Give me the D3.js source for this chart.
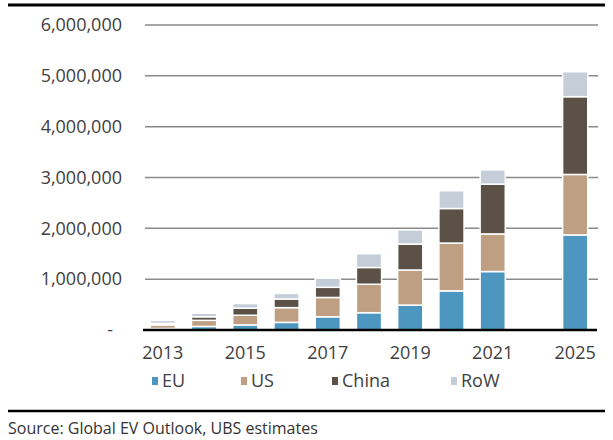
<!DOCTYPE html>
<html>
<head>
<meta charset="utf-8">
<script src="https://cdn.jsdelivr.net/npm/d3@7"></script>
<style>
  html, body { margin: 0; padding: 0; background: #fff; }
  svg { display: block; font-family: "Open Sans", "Noto Sans", sans-serif; }
</style>
</head>
<body>
<svg id="chart" width="613" height="440"></svg>
<script>
// ---- data ----
const categories = ["2013","2014","2015","2016","2017","2018","2019","2020","2021","","2025"];
const tickLabels = ["2013","2015","2017","2019","2021","2025"];
const seriesNames = ["EU","US","China","RoW"];
const EU    = [30000, 70000, 100000, 150000, 260000, 340000, 490000, 770000, 1150000, null, 1870000];
const US    = [70000, 120000, 190000, 290000, 380000, 560000, 690000, 940000, 740000, null, 1190000];
const China = [30000, 70000, 140000, 170000, 200000, 330000, 510000, 680000, 980000, null, 1530000];
const RoW   = [60000, 70000, 90000, 110000, 180000, 270000, 280000, 350000, 280000, null, 490000];
const yTicks = [0, 1000000, 2000000, 3000000, 4000000, 5000000, 6000000];
const colors = ["#4C96C0", "#BE9F82", "#5B5147", "#C5CDD9"];
const sourceText = "Source: Global EV Outlook, UBS estimates";

// ---- build table ----
const table = categories.map((c, i) => ({
  cat: c, EU: EU[i] || 0, US: US[i] || 0, China: China[i] || 0, RoW: RoW[i] || 0, empty: EU[i] == null
}));

const svg = d3.select("#chart");

const x = d3.scaleBand().domain(d3.range(categories.length)).range([142, 596])
  .paddingInner(0.39).paddingOuter(0.2);
const y = d3.scaleLinear().domain([0, 6000000]).range([330, 25]);

// top rule
svg.append("line").attr("x1", 8).attr("x2", 605).attr("y1", 5).attr("y2", 5)
  .attr("stroke", "#000").attr("stroke-width", 3);

// gridlines
svg.append("g").selectAll("line").data(yTicks.filter(d => d > 0)).join("line")
  .attr("x1", 145).attr("x2", 598)
  .attr("y1", d => y(d)).attr("y2", d => y(d))
  .attr("stroke", "#8a8a8a").attr("stroke-width", 1.5);

// y labels
svg.append("g").selectAll("text").data(yTicks).join("text")
  .attr("x", d => d === 0 ? 113 : 122)
  .attr("y", d => y(d))
  .attr("dy", "0.35em")
  .attr("text-anchor", "end")
  .attr("font-size", 18)
  .attr("fill", "#404040")
  .text(d => d === 0 ? "-" : d3.format(",")(d));

// stacked bars
const stack = d3.stack().keys(seriesNames);
const stacked = stack(table);
svg.append("g").selectAll("g").data(stacked).join("g")
  .attr("fill", (d, i) => colors[i])
  .selectAll("rect").data(d => d.map((v, i) => ({ v, i })).filter(o => !table[o.i].empty))
  .join("rect")
  .attr("x", o => x(o.i))
  .attr("width", x.bandwidth())
  .attr("y", o => y(o.v[1]))
  .attr("height", o => Math.max(0, y(o.v[0]) - y(o.v[1])))
  .attr("stroke", "#fff")
  .attr("stroke-width", 1.5);

// baseline
svg.append("line").attr("x1", 143).attr("x2", 597).attr("y1", 330).attr("y2", 330)
  .attr("stroke", "#000").attr("stroke-width", 2.5);

// x labels
svg.append("g").selectAll("text")
  .data(categories.map((c, i) => ({ c, i })).filter(o => tickLabels.includes(o.c)))
  .join("text")
  .attr("x", o => x(o.i) + x.bandwidth() / 2)
  .attr("y", 353)
  .attr("dy", "0.35em")
  .attr("text-anchor", "middle")
  .attr("font-size", 18)
  .attr("fill", "#404040")
  .text(o => o.c);

// legend
const legendX = [152, 241, 332, 451];
const lg = svg.append("g").selectAll("g").data(seriesNames).join("g")
  .attr("transform", (d, i) => `translate(${legendX[i]},381)`);
lg.append("rect").attr("x", 0).attr("y", -4).attr("width", 6).attr("height", 8)
  .attr("fill", (d, i) => colors[i]);
lg.append("text").attr("x", 10).attr("y", 0).attr("dy", "0.35em")
  .attr("font-size", 18).attr("fill", "#404040").text(d => d);

// bottom rule
svg.append("line").attr("x1", 8).attr("x2", 605).attr("y1", 411).attr("y2", 411)
  .attr("stroke", "#000").attr("stroke-width", 2.5);

// source
svg.append("text").attr("x", 8).attr("y", 428).attr("dy", "0.35em")
  .attr("font-size", 16).attr("fill", "#333").text(sourceText);
</script>
</body>
</html>
